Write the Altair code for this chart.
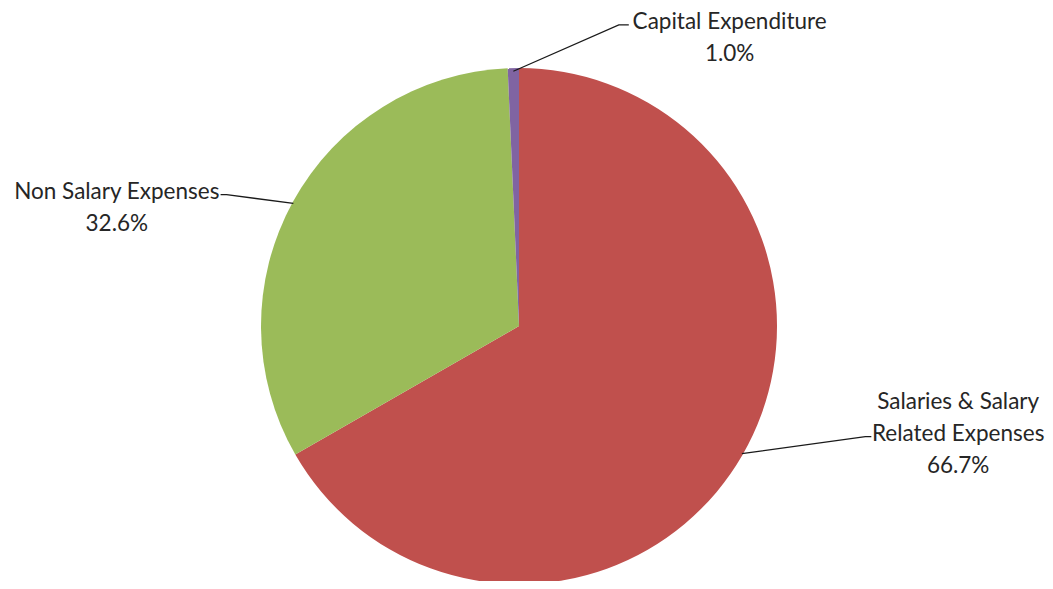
import math
import altair as alt
import pandas as pd

# ---- data ----
categories = ["Salaries & Salary Related Expenses", "Non Salary Expenses", "Capital Expenditure"]
shares = [66.7, 32.6, 0.7]
pct_labels = ["66.7%", "32.6%", "1.0%"]
label_names = ["Salaries & Salary\nRelated Expenses", "Non Salary Expenses", "Capital Expenditure"]
colors = ["#C0504D", "#9BBB59", "#8064A2"]

# ---- layout ----
W, H = 1037, 573
CX, CY, R = 512, 322, 258
# label placements in page pixels: elbow, end of leader, first text line centre
placements = {
    "Salaries & Salary Related Expenses": dict(elbow=(867, 442), end=(873, 442), text=(960, 407)),
    "Non Salary Expenses": dict(elbow=(227, 197), end=(221, 197), text=(117, 194)),
    "Capital Expenditure": dict(elbow=(620, 25), end=(630, 25), text=(731, 22)),
}


def u(p):
    px, py = p
    return ((px - 8 - CX) / R, (CY - (py - 8)) / R)


xscale = alt.Scale(domain=[-CX / R, (W - CX) / R], nice=False, zero=False)
yscale = alt.Scale(domain=[-(H - CY) / R, CY / R], nice=False, zero=False)

pie_df = pd.DataFrame({"category": categories, "share": shares, "idx": list(range(len(shares)))})

total = sum(shares)
rows_line, rows_text = [], []
cum = 0.0
for cat, s, pl, name in zip(categories, shares, pct_labels, label_names):
    mid = 2 * math.pi * (cum + s / 2) / total
    cum += s
    edge = (math.sin(mid), math.cos(mid))
    p = placements[cat]
    pts = [edge, u(p["elbow"]), u(p["end"])]
    for i, (x, y) in enumerate(pts):
        rows_line.append({"category": cat, "i": i, "x": x, "y": y})
    tx, ty = u(p["text"])
    rows_text.append({"category": cat, "x": tx, "y": ty, "label": name + "\n" + pl})

line_df = pd.DataFrame(rows_line)
text_df = pd.DataFrame(rows_text)

pie = alt.Chart(pie_df).mark_arc(outerRadius=R, stroke=None).encode(
    theta=alt.Theta("share:Q", stack=True),
    order=alt.Order("idx:Q"),
    color=alt.Color("category:N", scale=alt.Scale(domain=categories, range=colors), legend=None),
    x=alt.X(datum=0, type="quantitative", scale=xscale, axis=None),
    y=alt.Y(datum=0, type="quantitative", scale=yscale, axis=None),
)

leaders = alt.Chart(line_df).mark_line(color="#1a1a1a", strokeWidth=1.3).encode(
    x=alt.X("x:Q", scale=xscale, axis=None),
    y=alt.Y("y:Q", scale=yscale, axis=None),
    detail="category:N",
    order="i:Q",
)

texts = alt.Chart(text_df).mark_text(
    lineBreak="\n", lineHeight=32, align="center", baseline="middle",
    font="Lato", fontSize=22.5, color="#262626",
).encode(
    x=alt.X("x:Q", scale=xscale, axis=None),
    y=alt.Y("y:Q", scale=yscale, axis=None),
    text="label:N",
)

chart = alt.layer(pie, leaders, texts).properties(
    width=W, height=H, padding=0,
    autosize=alt.AutoSizeParams(type="fit", contains="padding"),
).configure_view(stroke=None)

chart.save("out.html", embed_options={"renderer": "svg", "actions": False})
